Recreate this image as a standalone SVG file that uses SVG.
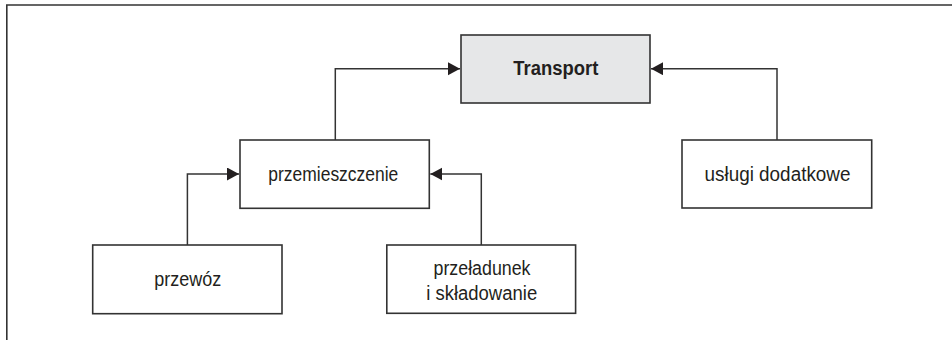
<svg xmlns="http://www.w3.org/2000/svg" width="952" height="340" viewBox="0 0 952 340">
<style>
.box{fill:#ffffff;stroke:#333333;stroke-width:1.6}
.main{fill:#e6e7e8}
.t{font-family:"Liberation Sans",Arial,sans-serif;font-size:20px;fill:#231f20;text-anchor:middle}
.b{font-weight:bold}
.c{fill:none;stroke:#333333;stroke-width:1.5}
</style>
<defs>
<marker id="ah" markerUnits="userSpaceOnUse" markerWidth="13" markerHeight="14" refX="12" refY="6.5" orient="auto">
<path d="M0,0 L12,6.5 L0,13 Z" fill="#231f20"/>
</marker>
</defs>
<rect width="952" height="340" fill="#ffffff"/>
<path d="M6.8,340 V5 H952" fill="none" stroke="#333333" stroke-width="1.6"/>
<g id="connectors">
<path class="c" d="M335.3,140 V68.7 H460" marker-end="url(#ah)"/>
<path class="c" d="M777,140 V68.7 H651" marker-end="url(#ah)"/>
<path class="c" d="M187.4,245 V174 H239" marker-end="url(#ah)"/>
<path class="c" d="M481.3,245 V174 H430.3" marker-end="url(#ah)"/>
</g>
<g id="transport">
<rect class="box main" x="461" y="35" width="189" height="68"/>
<text class="t b" x="555.8" y="74.5" textLength="85" lengthAdjust="spacingAndGlyphs">Transport</text>
</g>
<g id="przemieszczenie">
<rect class="box" x="240" y="140" width="189.3" height="68.3"/>
<text class="t" x="333.3" y="180.5" textLength="130" lengthAdjust="spacingAndGlyphs">przemieszczenie</text>
</g>
<g id="uslugi">
<rect class="box" x="682" y="140" width="189.7" height="68"/>
<text class="t" x="777.5" y="180.5" textLength="146" lengthAdjust="spacingAndGlyphs">usługi dodatkowe</text>
</g>
<g id="przewoz">
<rect class="box" x="92.7" y="245" width="189.3" height="68.7"/>
<text class="t" x="187.7" y="285.5" textLength="67" lengthAdjust="spacingAndGlyphs">przewóz</text>
</g>
<g id="przeladunek">
<rect class="box" x="386.8" y="245" width="188.8" height="68.3"/>
<text class="t" x="482" y="274.5" textLength="97" lengthAdjust="spacingAndGlyphs">przeładunek</text>
<text class="t" x="481.7" y="299.5" textLength="111" lengthAdjust="spacingAndGlyphs">i składowanie</text>
</g>
</svg>
